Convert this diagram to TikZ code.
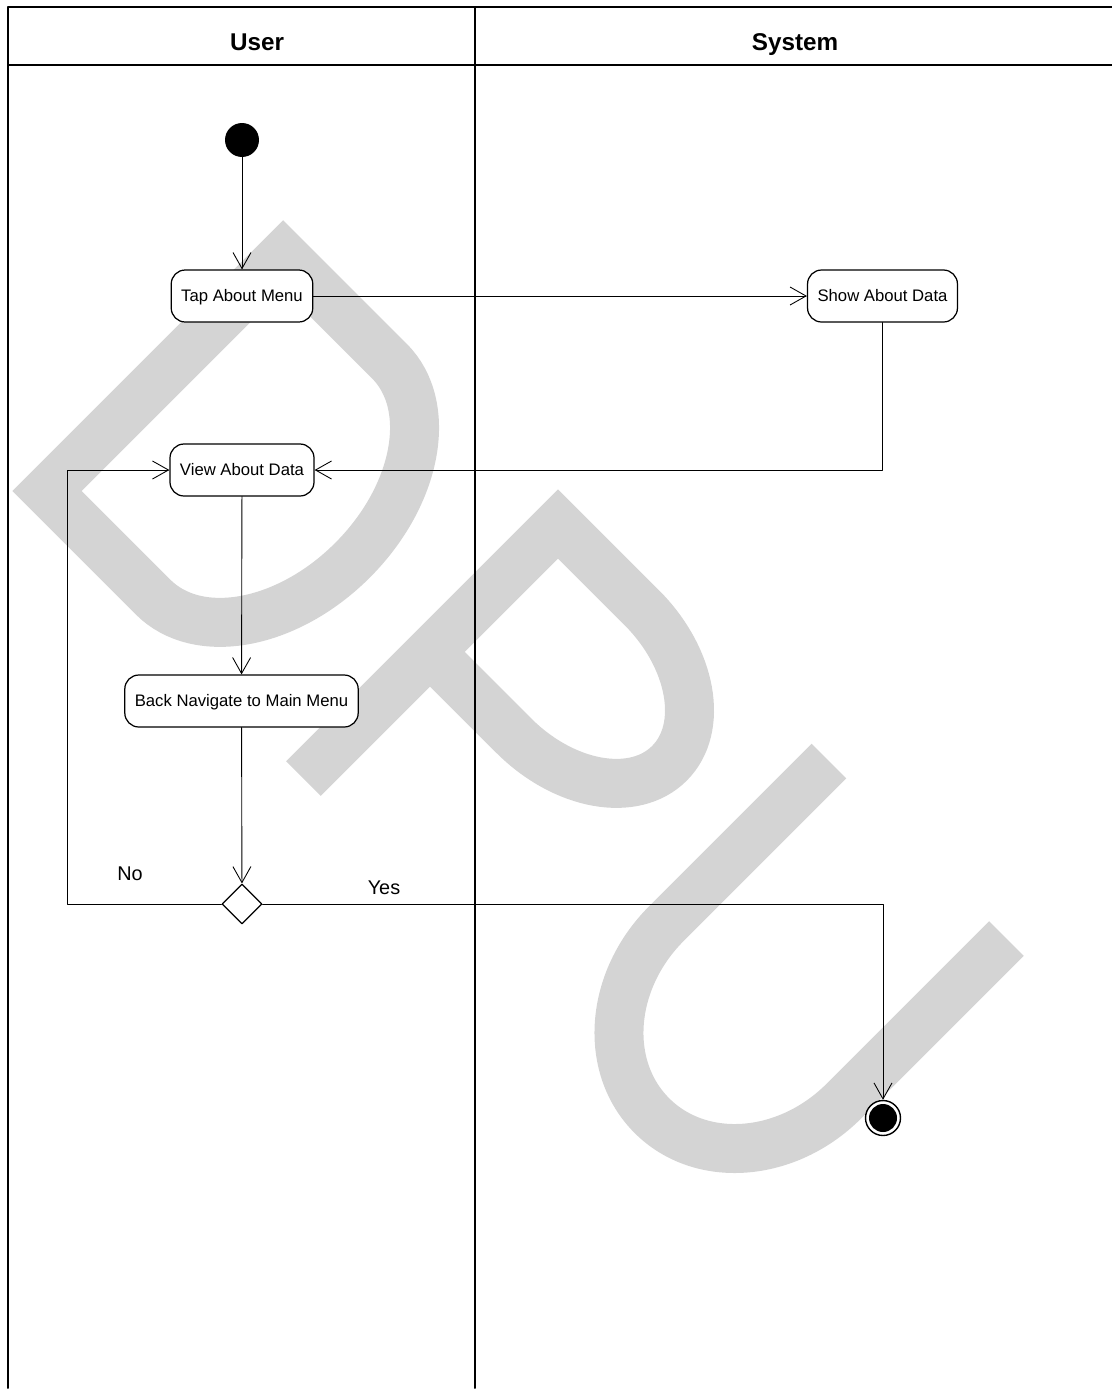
\documentclass[tikz,border=0pt]{standalone}
\usepackage{fontspec}
\setmainfont{Liberation Sans}
\usetikzlibrary{arrows.meta}
\usetikzlibrary{positioning}
\usetikzlibrary{shapes.geometric}
\definecolor{wmgray}{RGB}{212,212,212}
\tikzset{
  act/.style={draw,rounded corners=0.28cm,fill=white,minimum height=1.04cm,inner xsep=0.2cm,line width=0.7pt,text height=1.55ex,text depth=0.35ex,font=\fontsize{9.5}{11}\selectfont},
  lane/.style={anchor=base,font=\bfseries\fontsize{13.8}{16}\selectfont},
  guard/.style={font=\fontsize{11.3}{13}\selectfont},
  wm/.style={wmgray,line width=0.98cm,line join=miter,line cap=butt},
  wmframe/.style={x={(0.014142cm,0.014142cm)},y={(0.014142cm,-0.014142cm)}}
}

\begin{document}
\begin{tikzpicture}[line cap=round,line join=round,>={Straight Barb[length=0.32cm,width=0.36cm]},x=0.02cm,y=-0.02cm]
\useasboundingbox (0,0) rectangle (1112,1390);
\begin{scope}
\clip (0,0) rectangle (1112,1390);
% watermark
\draw[wm,shift={(47,491)},wmframe] (0,0) -- (334,0) -- (334,150) arc[start angle=0,end angle=180,x radius=167,y radius=115] -- cycle;
\draw[wm,shift={(303.5,778.5)},wmframe] (179,0) -- (179,118) arc[start angle=180,end angle=0,x radius=90.5,y radius=130] -- (360,0) -- (0,0);
\draw[wm,shift={(829,761)},wmframe] (0,0) -- (-230,0) arc[start angle=270,end angle=90,x radius=146,y radius=125.5] -- (0,251);
\end{scope}
% swimlanes
\draw[line width=1.1pt] (8,7) -- (1112,7);
\draw[line width=1.1pt] (8,65) -- (1112,65);
\draw[line width=1.1pt] (8,7) -- (8,1388);
\draw[line width=1.1pt] (475,7) -- (475,1388);
\node[lane] (user) at (257,50) {User};
\node[lane] (system) at (795,50) {System};
% activities
\node[circle,fill,minimum size=0.68cm,inner sep=0] (start) at (242,140) {};
\node[act] (tap) at (242,296) {Tap About Menu};
\node[act] (show) at (882.5,296) {Show About Data};
\node[act] (view) at (242,470) {View About Data};
\node[act] (back) at (241.5,701) {Back Navigate to Main Menu};
\node[diamond,draw,fill=white,aspect=1,minimum size=0.8cm,inner sep=0,line width=0.7pt] (dec) at (242,904) {};
\node[circle,draw,fill=white,minimum size=0.7cm,inner sep=0,line width=0.8pt] (stop) at (883,1118) {};
\fill (stop.center) circle (0.28cm);
\coordinate (loop) at (67,904);
% flows
\draw[->,line width=0.5pt] (start) -- (tap);
\draw[->,line width=0.5pt] (tap) -- (show);
\draw[->,line width=0.5pt] (show.south) |- (view.east);
\draw[->,line width=0.5pt] (view) -- (back);
\draw[->,line width=0.5pt] (back) -- (dec);
\draw[->,line width=0.5pt] (dec.west) -- (loop) |- (view.west);
\draw[->,line width=0.5pt] (dec.east) -| (stop);
\node[guard] (no) at (130,874) {No};
\node[guard] (yes) at (384,888) {Yes};
\end{tikzpicture}
\end{document}
